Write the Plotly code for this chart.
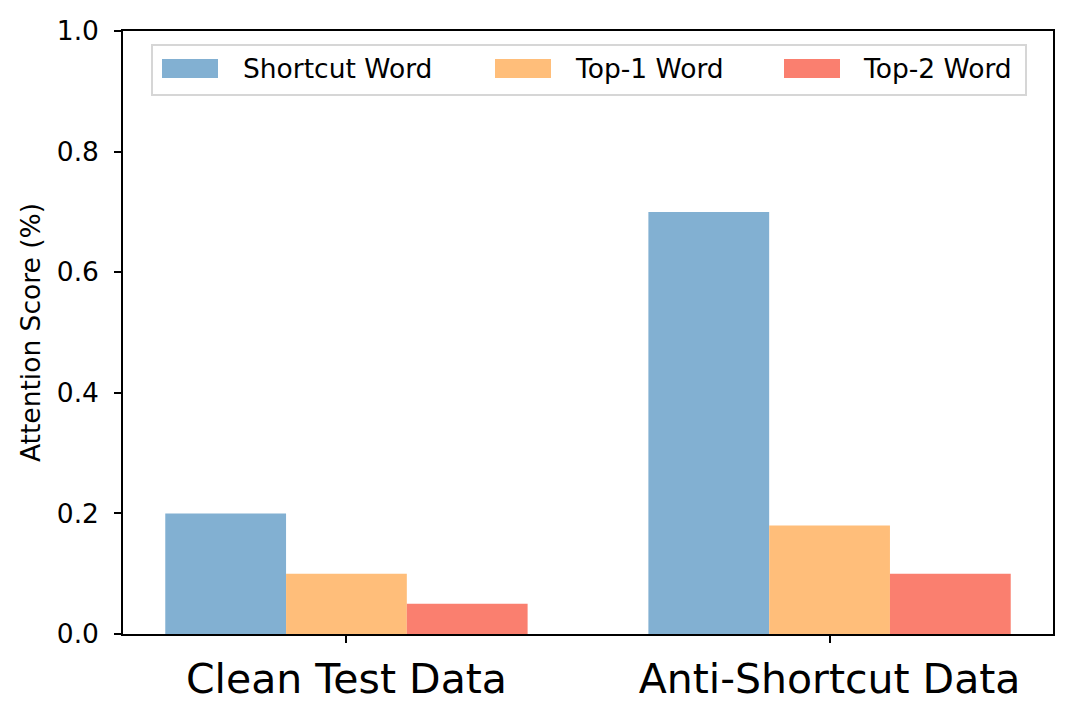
import plotly.graph_objects as go

# data
categories = ['Clean Test Data', 'Anti-Shortcut Data']
series_names = ['Shortcut Word', 'Top-1 Word', 'Top-2 Word']
shortcut_word = [0.2, 0.7]
top1_word = [0.1, 0.18]
top2_word = [0.05, 0.1]
y_ticks = [0.0, 0.2, 0.4, 0.6, 0.8, 1.0]

colors = ['#82B0D2', '#FFBE7A', '#FA7F6F']
values = [shortcut_word, top1_word, top2_word]

fig = go.Figure()
for name, vals, color in zip(series_names, values, colors):
    fig.add_trace(go.Bar(
        x=list(range(len(categories))),
        y=vals,
        name=name,
        marker=dict(color=color, line=dict(width=0)),
        showlegend=False,
    ))

# plot area in page pixels (used to place a matplotlib-style legend box)
PL, PR, PT, PB = 123, 1053, 31, 634


def px(x):
    return (x - PL) / (PR - PL)


def py(y):
    return (PB - y) / (PB - PT)


# legend frame
fig.add_shape(type='rect', xref='paper', yref='paper',
              x0=px(152), x1=px(1026), y0=py(95), y1=py(45),
              line=dict(color='#d6d6d6', width=2), fillcolor='rgba(255,255,255,0.8)',
              layer='above')
# legend entries: patch left edge, text left edge
legend_pos = [(162, 241), (495, 573), (784, 861)]
for (sx, tx), name, color in zip(legend_pos, series_names, colors):
    fig.add_shape(type='rect', xref='paper', yref='paper',
                  x0=px(sx), x1=px(sx + 56), y0=py(78), y1=py(59),
                  line=dict(width=0), fillcolor=color, layer='above')
    fig.add_annotation(xref='paper', yref='paper', x=px(tx), y=py(68),
                       xanchor='left', yanchor='middle', text=name,
                       showarrow=False, font=dict(size=26.5, color='black'))

fig.update_layout(
    width=1064,
    height=708,
    margin=dict(l=115, r=19, t=23, b=82, autoexpand=False),
    plot_bgcolor='white',
    paper_bgcolor='white',
    font=dict(family='DejaVu Sans', size=26.5, color='black'),
    barmode='group',
    bargap=0.25,
    bargroupgap=0,
    showlegend=False,
)

fig.update_xaxes(
    range=[-0.4625, 1.4625],
    tickmode='array',
    tickvals=list(range(len(categories))),
    ticktext=categories,
    tickfont=dict(size=41),
    ticks='outside', ticklen=7, tickwidth=1.5, tickcolor='black',
    ticklabelstandoff=1,
    automargin=False,
    showline=True, linecolor='black', linewidth=1.5, mirror=True,
    showgrid=False, zeroline=False,
)
fig.update_yaxes(
    range=[0, 1.0],
    tickmode='array',
    tickvals=y_ticks,
    ticktext=['%.1f' % v for v in y_ticks],
    tickfont=dict(size=26.5),
    ticks='outside', ticklen=7, tickwidth=1.5, tickcolor='black',
    ticklabelstandoff=10,
    automargin=False,
    showline=True, linecolor='black', linewidth=1.5, mirror=True,
    showgrid=False, zeroline=False,
    title=dict(text='Attention Score (%)', font=dict(size=26.5), standoff=9),
)

fig.write_html('out.html')
